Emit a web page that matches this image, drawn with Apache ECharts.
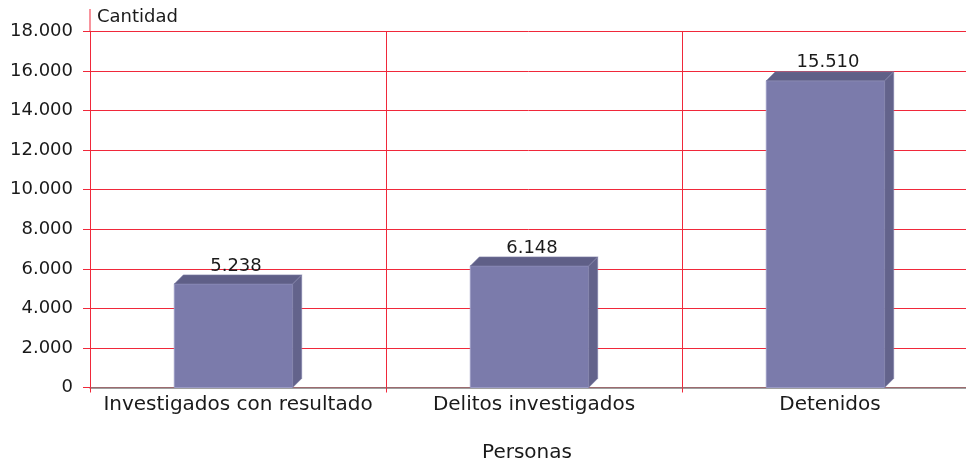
<!DOCTYPE html>
<html>
<head>
<meta charset="utf-8">
<script src="https://cdn.jsdelivr.net/npm/echarts@6/dist/echarts.min.js"></script>
<style>
  html, body { margin: 0; padding: 0; background: #fff; }
  #chart { width: 966px; height: 465px; }
</style>
</head>
<body>
<div id="chart"></div>
<script>
// datos
var categorias = ['Investigados con resultado', 'Delitos investigados', 'Detenidos'];
var cantidades = [5238, 6148, 15510];
var yTicks = [0, 2000, 4000, 6000, 8000, 10000, 12000, 14000, 16000, 18000];

var fuente = 'DejaVu Sans';
var rojo = '#f0283a';

function fmt(v) {
  return String(v).replace(/\B(?=(\d{3})+(?!\d))/g, '.');
}

// barra con efecto 3D: frente, tapa y lateral
function renderBar(params, api) {
  var idx = api.value(0);
  var val = api.value(1);
  var base = api.coord([idx, 0]);
  var top = api.coord([idx, val]);
  var w = api.size([1, 0])[0] * 0.4;
  var d = 9;
  var x0 = base[0] - w / 2 - d / 2;
  var x1 = x0 + w;
  return {
    type: 'group',
    children: [
      {
        type: 'rect',
        shape: { x: x0, y: top[1], width: w, height: base[1] - top[1] },
        style: { fill: '#7b7bab', stroke: '#9a9ac4', lineWidth: 1 }
      },
      {
        type: 'polygon',
        shape: { points: [[x0, top[1]], [x0 + d, top[1] - d], [x1 + d, top[1] - d], [x1, top[1]]] },
        style: { fill: '#5f5f87', stroke: '#8080a8', lineWidth: 0.6 }
      },
      {
        type: 'polygon',
        shape: { points: [[x1, top[1]], [x1 + d, top[1] - d], [x1 + d, base[1] - d], [x1, base[1]]] },
        style: { fill: '#63638b', stroke: '#8080a8', lineWidth: 0.6 }
      },
      {
        type: 'text',
        style: {
          x: base[0] - 2, y: top[1] - d - 9,
          text: fmt(val),
          align: 'center', verticalAlign: 'middle',
          fill: '#1a1a1a', font: '18px "' + fuente + '"'
        }
      }
    ]
  };
}

var chart = echarts.init(document.getElementById('chart'));
chart.setOption({
  animation: false,
  backgroundColor: '#fff',
  grid: { left: 90, width: 888, top: 31.5, height: 356, containLabel: false, outerBoundsMode: 'none' },
  xAxis: {
    type: 'category',
    data: categorias,
    axisLine: { lineStyle: { color: '#808080', width: 1.5 } },
    axisTick: { show: true, interval: 0, length: 5, lineStyle: { color: rojo } },
    splitLine: { show: true, interval: 0, lineStyle: { color: rojo, width: 1 } },
    axisLabel: { interval: 0, color: '#1a1a1a', fontFamily: fuente, fontSize: 20, margin: 7 }
  },
  yAxis: {
    type: 'value',
    min: 0, max: 18000, interval: 2000,
    name: 'Cantidad',
    nameLocation: 'end',
    nameGap: 14,
    nameTextStyle: { align: 'left', verticalAlign: 'middle', color: '#1a1a1a', fontFamily: fuente, fontSize: 18, padding: [0, 0, 0, 7] },
    axisLine: { show: true, lineStyle: { color: rojo } },
    axisTick: { show: true, length: 7, lineStyle: { color: rojo } },
    splitLine: { show: true, lineStyle: { color: rojo, width: 1 } },
    axisLabel: {
      color: '#1a1a1a', fontFamily: fuente, fontSize: 18, margin: 17,
      formatter: function (v) { return yTicks.indexOf(v) >= 0 ? fmt(v) : ''; }
    }
  },
  graphic: [
    { type: 'line', shape: { x1: 90, y1: 9, x2: 90, y2: 31 }, style: { stroke: rojo, lineWidth: 1 } },
    {
      type: 'text', x: 527, y: 453,
      style: { text: 'Personas', align: 'center', verticalAlign: 'middle', fill: '#1a1a1a', font: '20px "' + fuente + '"' }
    }
  ],
  series: [{
    type: 'custom',
    renderItem: renderBar,
    data: cantidades.map(function (v, i) { return [i, v]; }),
    encode: { x: 0, y: 1 },
    clip: false
  }]
});
</script>
</body>
</html>
